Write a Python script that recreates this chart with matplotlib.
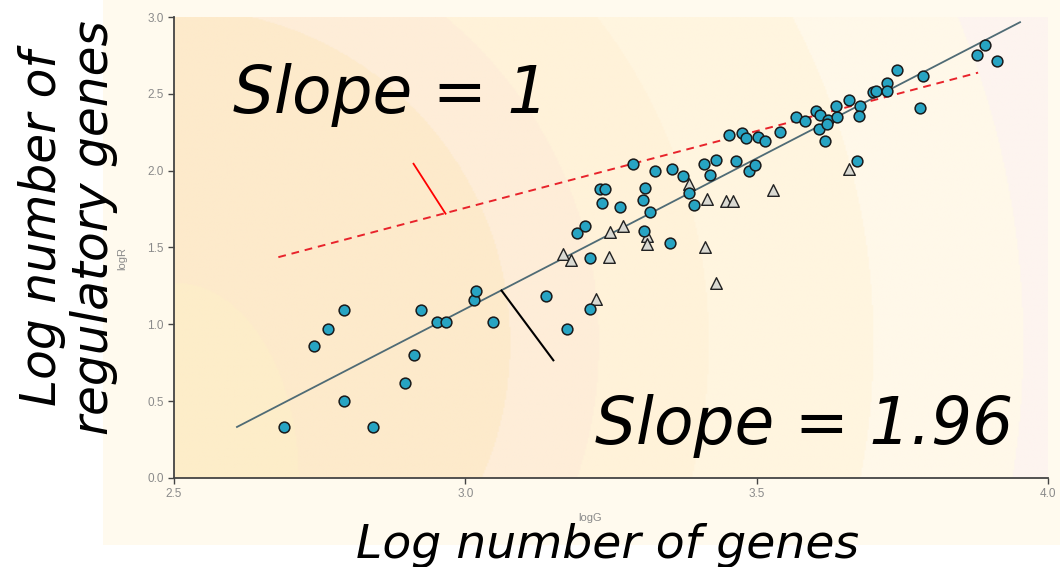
import numpy as np
import matplotlib.pyplot as plt
from matplotlib.colors import ListedColormap, BoundaryNorm
from matplotlib.patches import Rectangle

# blue circles (logG, logR)
circ_g = [2.688, 2.741, 2.764, 2.791, 2.792, 2.842, 2.896, 2.911, 2.923, 2.952,
          2.966, 3.015, 3.019, 3.047, 3.138, 3.174, 3.214, 3.214, 3.191, 3.205,
          3.231, 3.240, 3.234, 3.265, 3.288, 3.306, 3.308, 3.305, 3.317, 3.325,
          3.351, 3.354, 3.374, 3.383, 3.393, 3.410, 3.419, 3.430, 3.464, 3.487,
          3.497, 3.453, 3.474, 3.481, 3.503, 3.514, 3.540, 3.568, 3.583, 3.602,
          3.609, 3.622, 3.637, 3.636, 3.607, 3.617, 3.620, 3.659, 3.677, 3.676,
          3.672, 3.700, 3.705, 3.723, 3.723, 3.740, 3.786, 3.780, 3.878, 3.892,
          3.912]
circ_r = [0.332, 0.858, 0.971, 0.501, 1.095, 0.332, 0.618, 0.798, 1.095, 1.014,
          1.014, 1.160, 1.216, 1.012, 1.183, 0.971, 1.097, 1.433, 1.593, 1.637,
          1.882, 1.882, 1.791, 1.762, 2.044, 1.606, 1.886, 1.812, 1.730, 1.996,
          1.531, 2.012, 1.964, 1.856, 1.778, 2.044, 1.975, 2.072, 2.061, 1.995,
          2.040, 2.235, 2.243, 2.213, 2.217, 2.196, 2.250, 2.347, 2.321, 2.386,
          2.365, 2.332, 2.347, 2.423, 2.272, 2.191, 2.304, 2.460, 2.423, 2.358,
          2.061, 2.510, 2.516, 2.568, 2.521, 2.655, 2.618, 2.406, 2.753, 2.818,
          2.716]

# grey triangles
tri_g = [3.168, 3.181, 3.225, 3.247, 3.248, 3.271, 3.312, 3.312, 3.383, 3.415,
         3.448, 3.460, 3.412, 3.430, 3.528, 3.658]
tri_r = [1.455, 1.416, 1.166, 1.441, 1.604, 1.637, 1.578, 1.520, 1.914, 1.817,
         1.801, 1.801, 1.502, 1.268, 1.871, 2.012]

# fitted line (slope 1.96) and slope-1 reference line
fit_x = [2.608, 3.952]
fit_slope = 1.96
fit_y0 = 0.332
ref_x = [2.679, 3.880]
ref_y0 = 1.437

fig = plt.figure(figsize=(10.6, 5.67), dpi=100)
fig.patch.set_facecolor('white')
fig.patches.append(Rectangle((0.097, 0.039), 0.903, 0.961, transform=fig.transFigure,
                             facecolor='#fffaee', edgecolor='none', zorder=-10))

ax = fig.add_axes([0.1642, 0.157, 0.8245, 0.813])

# shaded background bands
gx = np.linspace(2.5, 4.0, 600)
gy = np.linspace(0, 3.0, 400)
X, Y = np.meshgrid(gx, gy)
rad = np.hypot((X - 2.5) * 582.7, (Y - 0.876) * 153.8)
band = np.digitize(rad, [336, 425, 535, 700, 850]).astype(float) + 1
band[((X - 2.5) / 0.213) ** 2 + (Y / 1.27) ** 2 < 1] = 0
cols = ['#fdedc9', '#fdeacb', '#feedd8', '#fff2d9', '#fff5df', '#fff8e9', '#fdf4ef']
ax.imshow(band, extent=[2.5, 4.0, 0, 3.0], origin='lower', aspect='auto',
          cmap=ListedColormap(cols), norm=BoundaryNorm(np.arange(-0.5, 7.5), 7),
          interpolation='bilinear', zorder=0)

fx = np.array(fit_x)
ax.plot(fx, fit_y0 + fit_slope * (fx - fx[0]), color='#4f6b75', lw=1.3, zorder=2)
rx = np.array(ref_x)
ax.plot(rx, ref_y0 + 1.0 * (rx - rx[0]), color='#e8232b', lw=1.4,
        linestyle=(0, (4, 3)), zorder=2)

# pointer lines to the two lines
ax.plot([2.911, 2.966], [2.045, 1.720], color='red', lw=1.3, zorder=2)
ax.plot([3.062, 3.151], [1.220, 0.766], color='black', lw=1.5, zorder=2)

ax.scatter(tri_g, tri_r, marker='^', s=70, facecolor='#d9d9d2', edgecolor='#222222',
           linewidth=1.0, zorder=3)
ax.scatter(circ_g, circ_r, marker='o', s=60, facecolor='#27a4c3', edgecolor='#1a1a1a',
           linewidth=1.1, zorder=4)

ax.set_xlim(2.5, 4.0)
ax.set_ylim(0, 3.0)
ax.set_xticks([2.5, 3.0, 3.5, 4.0])
ax.set_yticks([0.0, 0.5, 1.0, 1.5, 2.0, 2.5, 3.0])
ax.set_xticklabels(['2.5', '3.0', '3.5', '4.0'])
ax.set_yticklabels(['0.0', '0.5', '1.0', '1.5', '2.0', '2.5', '3.0'])
ax.tick_params(direction='out', length=4, width=1, color='#444444', labelcolor='#8a8a8a',
               labelsize=8.5)
for lab in ax.get_xticklabels() + ax.get_yticklabels():
    lab.set_family('Liberation Sans')
for s in ['top', 'right']:
    ax.spines[s].set_visible(False)
for s in ['left', 'bottom']:
    ax.spines[s].set_color('#444444')
    ax.spines[s].set_linewidth(1.3)

ax.set_xlabel('logG', fontsize=8, color='#8a8a8a', family='Liberation Sans')
ax.set_ylabel('logR', fontsize=8, color='#8a8a8a', family='Liberation Sans')
ax.xaxis.set_label_coords(0.476, -0.075)
ax.yaxis.set_label_coords(-0.053, 0.477)

fig.text(0.2198, 0.8007, 'Slope = 1', fontsize=46.5, style='italic', va='baseline')
fig.text(0.5613, 0.217, 'Slope = 1.96', fontsize=46.5, style='italic', va='baseline')
fig.text(0.064, 0.598, 'Log number of\nregulatory genes', fontsize=35, style='italic',
         rotation=90, ha='center', va='center', linespacing=1.1)
fig.text(0.573, 0.016, 'Log number of genes', fontsize=34, style='italic',
         ha='center', va='baseline')

fig.savefig('out.png', dpi=100)
